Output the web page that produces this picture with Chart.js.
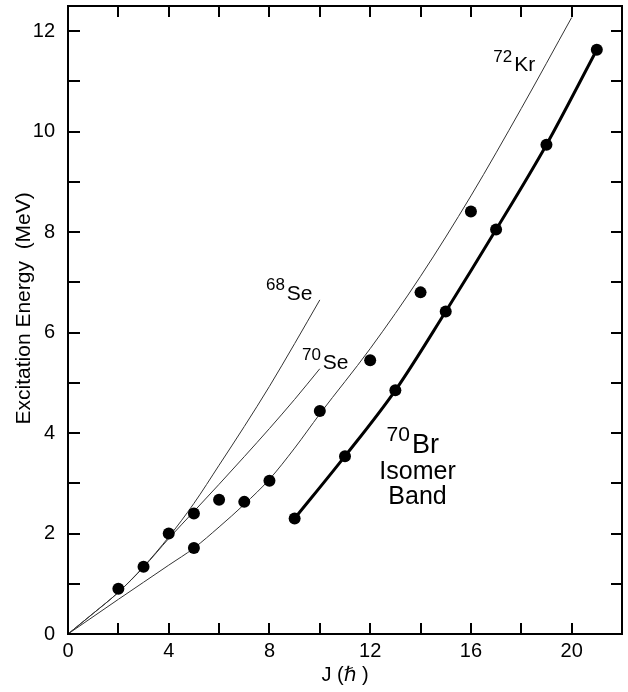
<!DOCTYPE html>
<html>
<head>
<meta charset="utf-8">
<script src="https://cdn.jsdelivr.net/npm/chart.js@4.4.0/dist/chart.umd.min.js"></script>
<style>
  body { margin: 0; background: #fff; }
</style>
</head>
<body>
<canvas id="levels" width="628" height="692"></canvas>
<script>
// level energies (MeV) against spin J
const se68J = [0, 1, 2, 3, 4, 5, 6, 7, 8, 9, 10];
const se68E = [0, 0.41, 0.83, 1.34, 1.93, 2.6, 3.36, 4.13, 4.93, 5.78, 6.65];

const se70J = [0, 1, 2, 3, 4, 5, 6, 7, 8, 9, 10];
const se70E = [0, 0.41, 0.83, 1.33, 1.9, 2.44, 2.98, 3.53, 4.09, 4.67, 5.28];

const kr72J = [0, 2, 3, 4, 5, 6, 7, 8, 9, 10, 12, 14, 16, 18, 20];
const kr72E = [0, 0.69, 1.03, 1.37, 1.71, 2.13, 2.58, 3.08, 3.7, 4.38, 5.68, 7.12, 8.72, 10.46, 12.27];

// 70Br isomer band
const isoJ = [9, 11, 13, 15, 17, 19, 21];
const isoE = [2.30, 3.54, 4.85, 6.42, 8.05, 9.74, 11.63];

// other measured levels
const lvlJ = [2, 3, 4, 5, 5, 6, 7, 8, 10, 12, 14, 16];
const lvlE = [0.9, 1.34, 2.0, 2.4, 1.71, 2.67, 2.63, 3.05, 4.44, 5.45, 6.8, 8.41];

const xTicks = [0, 4, 8, 12, 16, 20];
const yTicks = [0, 2, 4, 6, 8, 10, 12];

const FONT = "'Liberation Sans', Arial, 'DejaVu Sans', sans-serif";

const pts = (xs, ys) => xs.map((x, i) => ({ x: x, y: ys[i] }));

function curve(data) {
    return {
        data: data,
        showLine: true,
        borderColor: '#333',
        borderWidth: 1,
        pointRadius: 0,
        cubicInterpolationMode: 'monotone'
    };
}

// box with inward ticks on all four sides
const frameTicks = {
    id: 'frameTicks',
    afterDatasetsDraw(chart) {
        const { ctx, chartArea: a, scales: { x, y } } = chart;
        ctx.save();
        ctx.strokeStyle = '#000';
        ctx.lineWidth = 2;
        ctx.strokeRect(a.left, a.top, a.right - a.left, a.bottom - a.top);
        ctx.beginPath();
        x.ticks.forEach(t => {
            if (t.value <= x.min || t.value >= x.max) return;
            const px = Math.round(x.getPixelForValue(t.value));
            ctx.moveTo(px, a.bottom); ctx.lineTo(px, a.bottom - 11);
            ctx.moveTo(px, a.top); ctx.lineTo(px, a.top + 11);
        });
        y.ticks.forEach(t => {
            if (t.value <= y.min || t.value >= y.max) return;
            const py = Math.round(y.getPixelForValue(t.value));
            ctx.moveTo(a.left, py); ctx.lineTo(a.left + 12, py);
            ctx.moveTo(a.right, py); ctx.lineTo(a.right - 11, py);
        });
        ctx.stroke();
        ctx.restore();
    }
};

// nucleus labels with mass number raised
const tags = [
    { sup: '68', main: 'Se', j: 7.86, e: 6.65, size: 21, supSize: 17, raise: 10 },
    { sup: '70', main: 'Se', j: 9.29, e: 5.27, size: 21, supSize: 17, raise: 9 },
    { sup: '72', main: 'Kr', j: 16.89, e: 11.21, size: 21, supSize: 17, raise: 9 },
    { sup: '70', main: 'Br', j: 12.65, e: 3.60, size: 27, supSize: 21, raise: 12 }
];
const lines = [
    { text: 'Isomer', j: 13.88, e: 3.09, size: 25 },
    { text: 'Band', j: 13.88, e: 2.59, size: 25 }
];

const labelPlugin = {
    id: 'labelPlugin',
    afterDraw(chart) {
        const { ctx, scales: { x, y } } = chart;
        ctx.save();
        ctx.fillStyle = '#000';
        ctx.textBaseline = 'alphabetic';
        tags.forEach(t => {
            const px = x.getPixelForValue(t.j);
            const py = y.getPixelForValue(t.e);
            ctx.textAlign = 'left';
            ctx.font = t.supSize + 'px ' + FONT;
            ctx.fillText(t.sup, px, py - t.raise);
            const w = ctx.measureText(t.sup).width;
            ctx.font = t.size + 'px ' + FONT;
            ctx.fillText(t.main, px + w + 2, py);
        });
        lines.forEach(l => {
            ctx.textAlign = 'center';
            ctx.font = l.size + 'px ' + FONT;
            ctx.fillText(l.text, x.getPixelForValue(l.j), y.getPixelForValue(l.e));
        });
        ctx.restore();
    }
};

new Chart(document.getElementById('levels').getContext('2d'), {
    type: 'scatter',
    data: {
        datasets: [
            {
                data: pts(lvlJ, lvlE),
                pointRadius: 6,
                pointBackgroundColor: '#000',
                pointBorderWidth: 0
            },
            {
                data: pts(isoJ, isoE),
                showLine: true,
                borderColor: '#000',
                borderWidth: 3,
                pointRadius: 6,
                pointBackgroundColor: '#000',
                pointBorderWidth: 0,
                cubicInterpolationMode: 'monotone'
            },
            curve(pts(se68J, se68E)),
            curve(pts(se70J, se70E)),
            curve(pts(kr72J, kr72E))
        ]
    },
    options: {
        responsive: false,
        animation: false,
        devicePixelRatio: 1,
        layout: { padding: { left: 0, right: 5, top: 4, bottom: 0 } },
        plugins: { legend: { display: false }, tooltip: { enabled: false } },
        scales: {
            x: {
                type: 'linear',
                min: 0,
                max: 22,
                grid: { display: false },
                border: { display: false },
                afterFit(scale) {
                    scale.height = 58;
                    scale.paddingLeft = 0;
                    scale.paddingRight = 0;
                },
                ticks: {
                    stepSize: 2,
                    autoSkip: false,
                    maxRotation: 0,
                    padding: -3,
                    color: '#000',
                    font: { family: FONT, size: 20 },
                    callback: v => xTicks.includes(v) ? v : ''
                },
                title: {
                    display: true,
                    text: 'J (ℏ )',
                    color: '#000',
                    font: { family: FONT, size: 20 },
                    padding: { top: 0, bottom: 5 }
                }
            },
            y: {
                type: 'linear',
                min: 0,
                max: 12.5,
                grid: { display: false },
                border: { display: false },
                afterFit(scale) {
                    scale.width = 68;
                    scale.paddingTop = 0;
                    scale.paddingBottom = 0;
                },
                ticks: {
                    stepSize: 1,
                    autoSkip: false,
                    padding: 5,
                    color: '#000',
                    font: { family: FONT, size: 20 },
                    callback: v => yTicks.includes(v) ? v : ''
                },
                title: {
                    display: true,
                    text: '    Excitation Energy  (MeV)',
                    color: '#000',
                    font: { family: FONT, size: 21 },
                    padding: { top: 12, bottom: 0 }
                }
            }
        }
    },
    plugins: [frameTicks, labelPlugin]
});
</script>
</body>
</html>
